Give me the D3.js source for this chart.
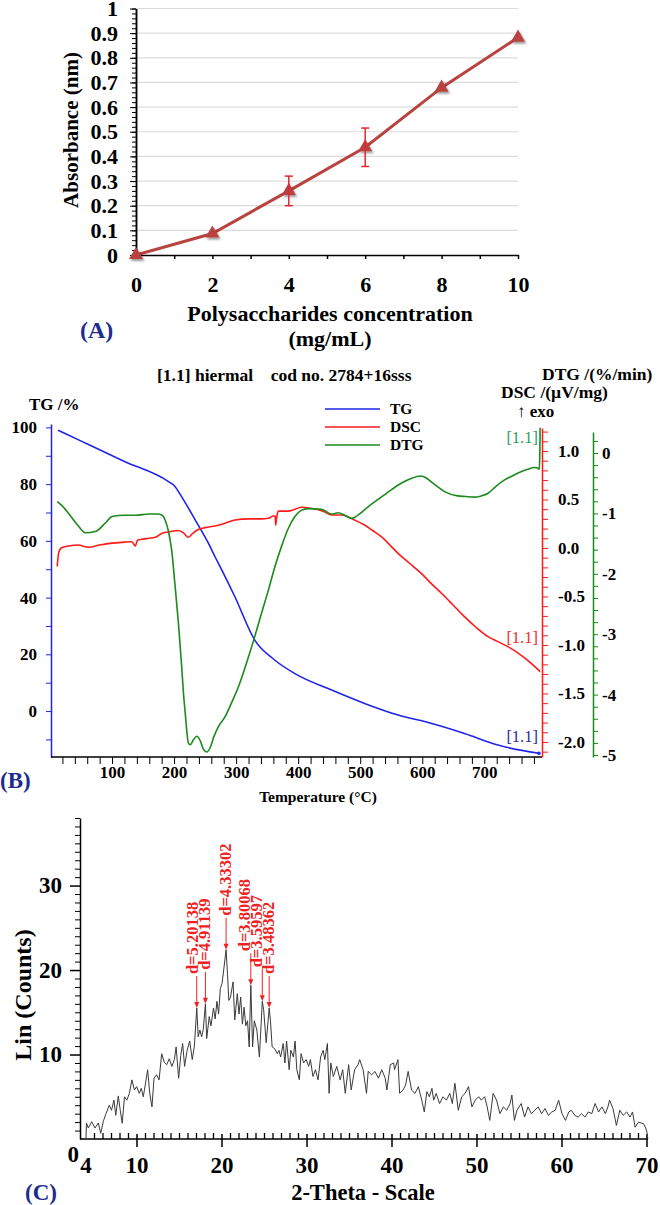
<!DOCTYPE html>
<html><head><meta charset="utf-8">
<script src="https://cdn.jsdelivr.net/npm/d3@7"></script>
<style>
body{margin:0;background:#fff}
svg{display:block}
text{font-family:"Liberation Serif","Times New Roman",serif}
</style>
</head><body>
<svg id="c" width="660" height="1205"></svg>
<script>
// ---------------- Panel A data ----------------
const absConc = [0, 2, 4, 6, 8, 10];
const absVals = [0, 0.087, 0.26, 0.437, 0.679, 0.882];
const absErr  = [0, 0, 0.06, 0.078, 0, 0];
const absYTicks = [0, 0.1, 0.2, 0.3, 0.4, 0.5, 0.6, 0.7, 0.8, 0.9, 1];
const absYLabels = ["0","0.1","0.2","0.3","0.4","0.5","0.6","0.7","0.8","0.9","1"];
const absXLabels = [0, 2, 4, 6, 8, 10];

// ---------------- Panel B data ----------------
const tgTemp = [13, 46, 120, 191, 200, 212, 234, 255.5, 266, 277, 298, 330, 362, 394, 454, 507, 561, 614, 668, 722, 788];
const tgVal  = [99, 95.6, 88, 80.9, 79.5, 75.6, 67.4, 59.1, 54.4, 49.7, 40.3, 25, 18, 13.3, 7.4, 2.7, -1.4, -4.3, -7.9, -12, -14.9];

const dscTemp = [11.6, 14, 18, 30, 45, 62.5, 80, 100, 120, 132, 137.5, 141, 148, 160, 169.6, 180, 191, 207, 216, 223, 230, 239, 250, 266, 280, 298, 320, 340, 352, 360, 363, 363.7, 365, 368, 384, 395, 405.5, 420, 440, 454, 470, 490, 507, 520, 534, 548, 561, 580, 598, 615, 631, 650, 668, 687, 706, 720, 738, 758, 775.6, 790];
const dscVal  = [-0.19, -0.05, 0.0, 0.02, 0.03, 0.007, 0.03, 0.05, 0.06, 0.065, 0.02, 0.08, 0.09, 0.10, 0.11, 0.15, 0.165, 0.18, 0.15, 0.11, 0.15, 0.19, 0.21, 0.227, 0.25, 0.289, 0.30, 0.30, 0.306, 0.33, 0.33, 0.237, 0.30, 0.38, 0.38, 0.40, 0.42, 0.41, 0.38, 0.34, 0.34, 0.29, 0.237, 0.18, 0.117, 0.03, -0.055, -0.16, -0.26, -0.37, -0.467, -0.59, -0.708, -0.82, -0.914, -0.96, -1.017, -1.1, -1.19, -1.275];

const dtgTemp = [11.6, 20, 30, 45, 57, 73, 90, 100, 120, 137.5, 160, 175, 182, 185.5, 191, 196, 201.6, 207, 212, 215, 218, 223, 226, 231, 236.7, 242, 247, 252.7, 258, 264, 271.5, 282, 292, 303.7, 316, 330, 341, 352, 362, 373, 384, 394.7, 405, 416, 437.6, 453.7, 464.5, 475, 486, 500, 512.7, 530, 550, 566, 582, 598, 606, 614, 625, 636, 657, 670, 684, 695, 705.5, 718, 732, 745, 759, 770, 780.6, 786, 788.6, 789.5, 790];
const dtgVal  = [-0.806, -0.88, -1.0, -1.2, -1.32, -1.30, -1.15, -1.05, -1.03, -1.03, -1.01, -1.01, -1.04, -1.11, -1.3, -1.6, -2.2, -2.82, -3.5, -3.96, -4.31, -4.8, -4.83, -4.75, -4.69, -4.76, -4.9, -4.95, -4.88, -4.7, -4.53, -4.37, -4.15, -3.87, -3.5, -3.04, -2.65, -2.27, -1.9, -1.55, -1.25, -1.05, -0.95, -0.92, -0.93, -1.01, -0.99, -1.03, -1.08, -1.0, -0.89, -0.76, -0.61, -0.5, -0.42, -0.38, -0.41, -0.475, -0.56, -0.64, -0.71, -0.72, -0.73, -0.71, -0.67, -0.56, -0.45, -0.38, -0.31, -0.27, -0.24, -0.25, -0.27, 0.0, 0.42];

const tgTicks = [0, 20, 40, 60, 80, 100];
const dscTicks = [1.0, 0.5, 0.0, -0.5, -1.0, -1.5, -2.0];
const dscTickLabels = ["1.0", "0.5", "0.0", "-0.5", "-1.0", "-1.5", "-2.0"];
const dtgTicks = [0, -1, -2, -3, -4, -5];
const dtgTickLabels = ["0", "-1", "-2", "-3", "-4", "-5"];
const tempTicks = [100, 200, 300, 400, 500, 600, 700];
const seriesNames = ["TG", "DSC", "DTG"];
const endLabelVals = [-9.2, -0.93, 0.25]; // TG, DSC, DTG units

// ---------------- Panel C data ----------------
const xrdTheta = [4.0, 4.05, 4.27, 4.67, 5.06, 5.45, 5.73, 6.04, 6.35, 6.74, 7.0, 7.29, 7.5, 7.8, 8.03, 8.26, 8.53, 8.8, 9.1, 9.4, 9.7, 9.96, 10.27, 10.5, 10.74, 10.97, 11.25, 11.5, 11.76, 12.0, 12.3, 12.6, 12.9, 13.2, 13.5, 13.8, 14.1, 14.4, 14.6, 14.9, 15.15, 15.37, 15.6, 15.9, 16.2, 16.5, 16.75, 17.03, 17.2, 17.4, 17.6, 17.8, 18.05, 18.2, 18.5, 18.7, 19.0, 19.2, 19.4, 19.6, 19.8, 20.0, 20.2, 20.48, 20.65, 20.8, 21.0, 21.3, 21.5, 21.8, 22.0, 22.2, 22.4, 22.6, 22.8, 23.0, 23.2, 23.39, 23.6, 23.8, 24.1, 24.4, 24.74, 24.9, 25.2, 25.55, 25.7, 25.9, 26.2, 26.5, 26.7, 26.9, 27.2, 27.4, 27.6, 27.9, 28.1, 28.4, 28.6, 28.8, 29.1, 29.3, 29.6, 29.9, 30.2, 30.4, 30.7, 31.0, 31.3, 31.6, 31.9, 32.1, 32.4, 32.6, 32.8, 33.1, 33.5, 33.9, 34.2, 34.5, 34.9, 35.2, 35.6, 36.0, 36.2, 36.6, 37.0, 37.2, 37.6, 38.0, 38.4, 38.8, 39.2, 39.4, 39.8, 40.2, 40.3, 40.7, 40.9, 41.3, 41.6, 41.9, 42.3, 42.7, 43.1, 43.5, 43.8, 44.1, 44.4, 44.7, 44.9, 45.2, 45.6, 46.0, 46.4, 46.8, 47.1, 47.4, 47.8, 48.2, 48.6, 49.0, 49.4, 49.8, 50.2, 50.5, 50.9, 51.2, 51.5, 51.9, 52.3, 52.7, 53.1, 53.5, 53.9, 54.1, 54.4, 54.7, 55.2, 55.6, 56.0, 56.4, 56.8, 57.2, 57.6, 58.0, 58.4, 58.8, 59.2, 59.6, 60.0, 60.4, 60.8, 61.1, 61.5, 61.9, 62.3, 62.7, 63.1, 63.5, 63.9, 64.3, 64.7, 65.1, 65.4, 65.6, 66.0, 66.4, 66.8, 67.2, 67.6, 68.0, 68.3, 68.6, 69.0, 69.3, 69.6, 69.85, 70.0, 70.1];
const xrdCounts = [0.0, 1.9, 1.3, 2.05, 1.3, 1.9, 0.67, 2.1, 3.0, 4.0, 3.4, 4.6, 2.8, 5.1, 3.4, 1.86, 5.0, 4.6, 5.4, 7.0, 5.8, 6.2, 5.4, 6.0, 5.0, 6.4, 8.2, 5.4, 3.8, 7.2, 7.6, 7.0, 10.1, 9.1, 8.8, 9.5, 8.6, 9.4, 10.9, 7.2, 9.9, 11.3, 8.6, 10.5, 11.6, 9.4, 11.0, 15.5, 12.1, 12.9, 12.1, 13.0, 16.0, 11.9, 14.5, 13.4, 15.5, 14.2, 16.3, 14.8, 17.8, 18.4, 20.0, 22.4, 19.5, 16.4, 16.8, 18.6, 14.1, 17.2, 14.8, 16.8, 13.6, 15.6, 13.4, 14.0, 10.9, 18.2, 10.9, 14.0, 12.9, 9.7, 16.3, 15.3, 11.4, 15.5, 14.0, 10.9, 10.7, 10.1, 10.5, 9.7, 11.3, 9.0, 11.6, 8.2, 10.5, 9.7, 11.6, 8.2, 7.0, 10.1, 9.0, 9.4, 8.6, 9.4, 7.4, 8.2, 7.0, 9.7, 10.5, 9.4, 11.3, 5.4, 9.0, 7.4, 8.6, 7.0, 8.2, 5.4, 8.8, 5.8, 8.2, 8.8, 9.4, 8.2, 5.4, 8.0, 7.6, 8.0, 7.2, 8.2, 7.2, 5.8, 8.8, 9.0, 8.2, 9.4, 5.4, 5.8, 6.4, 8.0, 5.8, 5.4, 6.2, 4.6, 3.2, 5.6, 5.0, 6.0, 4.6, 5.4, 4.2, 5.0, 4.6, 5.4, 4.2, 6.6, 3.4, 5.0, 5.4, 6.2, 3.8, 4.6, 5.0, 4.6, 5.0, 3.8, 2.2, 5.4, 4.6, 3.0, 3.8, 3.4, 4.2, 5.2, 2.2, 3.4, 4.2, 2.6, 3.8, 3.0, 3.4, 3.8, 3.0, 3.6, 2.8, 3.2, 3.4, 4.6, 3.0, 2.2, 3.2, 3.4, 2.8, 2.6, 3.0, 2.6, 3.2, 3.0, 4.2, 3.2, 3.8, 3.0, 3.8, 4.6, 3.6, 1.6, 3.4, 2.8, 3.2, 2.6, 3.2, 1.4, 2.0, 1.9, 1.8, 1.3, 0.8, 0.0];
const peakTheta = [17.03, 18.05, 20.48, 23.39, 24.74, 25.55];
const peakCounts = [15.5, 16.0, 22.4, 18.2, 16.3, 15.5];
const peakLabels = ["d=5.20138", "d=4.91139", "d=4.33302", "d=3.80068", "d=3.59597", "d=3.48362"];
const xrdXTicks = [10, 20, 30, 40, 50, 60, 70];
const xrdYTicks = [10, 20, 30];

// ---------------- Drawing ----------------
const svg = d3.select("#c");
const FONT = '"Liberation Serif","Times New Roman",serif';
const NAVY = "#1d2b8f";

function styleAxis(g, size, color) {
  g.selectAll("text").attr("font-family", FONT).attr("font-weight", "bold")
    .attr("font-size", size).attr("fill", "#000");
  g.selectAll("line").attr("stroke", color);
  g.select(".domain").attr("stroke", color);
}

// ===== Panel A =====
const xA = d3.scaleLinear([0, 10], [136, 518]);
const yA = d3.scaleLinear([0, 1], [255, 8.5]);
const gA = svg.append("g");

gA.append("g").selectAll("line").data(absYTicks.slice(1)).join("line")
  .attr("x1", xA(0)).attr("x2", xA(10))
  .attr("y1", d => yA(d)).attr("y2", d => yA(d))
  .attr("stroke", "#dcdcdc").attr("stroke-width", 1.2);

gA.append("g").attr("transform", `translate(${xA(0)},0)`)
  .call(d3.axisLeft(yA).tickValues(d3.range(0, 1.001, 0.02)).tickSize(4).tickSizeOuter(0).tickFormat(""))
  .call(g => { g.selectAll("line").attr("stroke", "#000"); g.select(".domain").attr("stroke", "#000").attr("stroke-width", 1.5); });
const yAxA = gA.append("g").attr("transform", `translate(${xA(0)},0)`)
  .call(d3.axisLeft(yA).tickValues(absYTicks).tickSize(6).tickSizeOuter(0).tickPadding(12)
    .tickFormat((d, i) => absYLabels[i]));
styleAxis(yAxA, 22, "#000");
yAxA.select(".domain").attr("stroke-width", 1.5);

const xAxA = gA.append("g").attr("transform", `translate(0,${yA(0)})`)
  .call(d3.axisBottom(xA).tickValues(d3.range(0, 11, 1)).tickSize(4).tickSizeOuter(0).tickPadding(17)
    .tickFormat(d => absXLabels.includes(d) ? d : ""));
styleAxis(xAxA, 22, "#000");
xAxA.select(".domain").attr("stroke-width", 1.5);
xAxA.selectAll("line").attr("stroke-width", 1.5);

const defs = svg.append("defs");
const f = defs.append("filter").attr("id", "sh").attr("x", "-50%").attr("y", "-50%").attr("width", "200%").attr("height", "200%");
f.append("feDropShadow").attr("dx", 1.5).attr("dy", 2).attr("stdDeviation", 1.2)
  .attr("flood-color", "#000").attr("flood-opacity", 0.4);

const ptsA = absConc.map((c, i) => ({ x: c, y: absVals[i], e: absErr[i] }));
gA.append("path").datum(ptsA)
  .attr("d", d3.line().x(d => xA(d.x)).y(d => yA(d.y)))
  .attr("fill", "none").attr("stroke", "#b8433f").attr("stroke-width", 3);
gA.append("g").selectAll("path").data(ptsA).join("path")
  .attr("d", d3.symbol(d3.symbolTriangle, 85))
  .attr("transform", d => `translate(${xA(d.x)},${yA(d.y)})`)
  .attr("fill", "#b8433f").attr("filter", "url(#sh)");
const eb = gA.append("g").attr("stroke", "#e3262e").attr("stroke-width", 1.5);
ptsA.filter(d => d.e > 0).forEach(d => {
  const x = xA(d.x), y1 = yA(d.y + d.e), y2 = yA(d.y - d.e);
  eb.append("line").attr("x1", x).attr("x2", x).attr("y1", y1).attr("y2", y2);
  eb.append("line").attr("x1", x - 4).attr("x2", x + 4).attr("y1", y1).attr("y2", y1);
  eb.append("line").attr("x1", x - 4).attr("x2", x + 4).attr("y1", y2).attr("y2", y2);
});

gA.append("text").attr("transform", "translate(78,130) rotate(-90)")
  .attr("text-anchor", "middle").attr("font-size", 21).attr("font-weight", "bold")
  .text("Absorbance (nm)");
gA.append("text").attr("x", 330).attr("y", 321).attr("text-anchor", "middle")
  .attr("font-size", 22).attr("font-weight", "bold").text("Polysaccharides concentration");
gA.append("text").attr("x", 330).attr("y", 346).attr("text-anchor", "middle")
  .attr("font-size", 22).attr("font-weight", "bold").text("(mg/mL)");
gA.append("text").attr("x", 80).attr("y", 338).attr("font-size", 24).attr("font-weight", "bold")
  .attr("fill", NAVY).text("(A)");

// ===== Panel B =====
const BLUE = "#1f24e6", RED = "#ff1a1a", GREEN = "#1c8a1c";
const xB = d3.scaleLinear([0, 793], [50, 542]);
const yTG = d3.scaleLinear([-16.2, 101.2], [757, 424]);
const yDSC = d3.scaleLinear([-2.155, 1.237], [757, 428]);
const yDTG = d3.scaleLinear([-5.033, 0.348], [757, 432]);
const gB = svg.append("g");

gB.append("text").attr("x", 157).attr("y", 381).attr("font-size", 17.5).attr("font-weight", "bold")
  .attr("xml:space", "preserve").style("white-space", "pre")
  .text("[1.1] hiermal    cod no. 2784+16sss");
gB.append("text").attr("x", 29).attr("y", 410).attr("font-size", 17).attr("font-weight", "bold").text("TG /%");
gB.append("text").attr("x", 542).attr("y", 380).attr("font-size", 17.5).attr("font-weight", "bold").text("DTG /(%/min)");
gB.append("text").attr("x", 501).attr("y", 398).attr("font-size", 17.5).attr("font-weight", "bold").text("DSC /(µV/mg)");
gB.append("text").attr("x", 517).attr("y", 417).attr("font-size", 17).attr("font-weight", "bold").text("↑ exo");

const axTG = gB.append("g").attr("transform", `translate(${xB(0) + 1},0)`)
  .call(d3.axisLeft(yTG).tickValues(d3.range(-10, 101, 10)).tickSize(5).tickSizeOuter(0).tickPadding(9)
    .tickFormat(d => tgTicks.includes(d) ? d : ""));
styleAxis(axTG, 17, BLUE);
axTG.select(".domain").attr("stroke-width", 1.5);

const axT = gB.append("g").attr("transform", `translate(0,757)`)
  .call(d3.axisBottom(xB).tickValues(d3.range(20, 781, 20)).tickSize(7).tickSizeOuter(0).tickPadding(2)
    .tickFormat(d => tempTicks.includes(d) ? d : ""));
styleAxis(axT, 17, "#000");
axT.select(".domain").attr("d", `M${xB(0) + 1},0H${xB(793)}`).attr("stroke-width", 1.5);

const axD = gB.append("g").attr("transform", `translate(${xB(793)},0)`)
  .call(d3.axisRight(yDSC).tickValues(d3.range(-2.1, 1.21, 0.1).map(v => Math.round(v * 10) / 10))
    .tickSize(6).tickSizeOuter(0).tickPadding(10)
    .tickFormat(d => { const i = dscTicks.findIndex(t => Math.abs(t - d) < 1e-6); return i >= 0 ? dscTickLabels[i] : ""; }));
styleAxis(axD, 17, RED);
axD.select(".domain").attr("stroke-width", 1.5);

const axG = gB.append("g").attr("transform", `translate(593,0)`)
  .call(d3.axisRight(yDTG).tickValues(d3.range(-5, 0.35, 0.2).map(v => Math.round(v * 10) / 10))
    .tickSize(5).tickSizeOuter(0).tickPadding(4)
    .tickFormat(d => { const i = dtgTicks.findIndex(t => Math.abs(t - d) < 1e-6); return i >= 0 ? dtgTickLabels[i] : ""; }));
styleAxis(axG, 17, GREEN);
axG.select(".domain").attr("stroke-width", 1.5);

const zip = (a, b) => a.map((v, i) => [v, b[i]]);
gB.append("path").datum(zip(tgTemp, tgVal))
  .attr("d", d3.line().x(d => xB(d[0])).y(d => yTG(d[1])).curve(d3.curveMonotoneX))
  .attr("fill", "none").attr("stroke", BLUE).attr("stroke-width", 1.6);
gB.append("path").datum(zip(dscTemp, dscVal))
  .attr("d", d3.line().x(d => xB(d[0])).y(d => yDSC(d[1])).curve(d3.curveMonotoneX))
  .attr("fill", "none").attr("stroke", RED).attr("stroke-width", 1.6);
gB.append("path").datum(zip(dtgTemp, dtgVal))
  .attr("d", d3.line().x(d => xB(d[0])).y(d => yDTG(d[1])).curve(d3.curveMonotoneX))
  .attr("fill", "none").attr("stroke", GREEN).attr("stroke-width", 1.6);
gB.append("circle").attr("cx", xB(tgTemp[tgTemp.length - 1])).attr("cy", yTG(tgVal[tgVal.length - 1]))
  .attr("r", 1.8).attr("fill", BLUE);

const legColors = [BLUE, RED, GREEN];
seriesNames.forEach((n, i) => {
  const y = 409 + i * 18;
  gB.append("line").attr("x1", 325).attr("x2", 380).attr("y1", y).attr("y2", y)
    .attr("stroke", legColors[i]).attr("stroke-width", 1.5);
  gB.append("text").attr("x", 390).attr("y", y + 5).attr("font-size", 15.5).attr("font-weight", "bold").text(n);
});

const endScales = [yTG, yDSC, yDTG];
const endColors = ["#2a2aa8", "#f02a2a", "#2f9e5a"];
endLabelVals.forEach((v, i) => {
  gB.append("text").attr("x", 538).attr("y", endScales[i](v) + 5).attr("text-anchor", "end")
    .attr("font-size", 16.5).attr("fill", endColors[i]).text("[1.1]");
});

gB.append("text").attr("x", 318).attr("y", 802).attr("text-anchor", "middle")
  .attr("font-size", 15.5).attr("font-weight", "bold").text("Temperature (°C)");
gB.append("text").attr("x", 0).attr("y", 788).attr("font-size", 23).attr("font-weight", "bold")
  .attr("fill", NAVY).text("(B)");

// ===== Panel C =====
const xC = d3.scaleLinear([4, 70], [86, 647]);
const yC = d3.scaleLinear([0, 38], [1139, 818]);
const gC = svg.append("g");

gC.append("g").attr("transform", "translate(80,0)")
  .call(d3.axisLeft(yC).tickValues(d3.range(1, 39, 1).filter(d => d % 10 !== 0)).tickSize(5).tickSizeOuter(0).tickFormat(""))
  .call(g => { g.selectAll("line").attr("stroke", "#000"); g.select(".domain").attr("stroke", "#000").attr("stroke-width", 1.5); });
const axCY = gC.append("g").attr("transform", "translate(80,0)")
  .call(d3.axisLeft(yC).tickValues(xrdYTicks).tickSize(10).tickSizeOuter(0).tickPadding(8));
styleAxis(axCY, 23, "#000");
axCY.select(".domain").remove();
axCY.selectAll("line").attr("stroke-width", 1.5);
gC.append("text").attr("x", 79).attr("y", 1162).attr("text-anchor", "end")
  .attr("font-size", 23).attr("font-weight", "bold").text("0");

gC.append("line").attr("x1", 80).attr("x2", xC(70) + 1).attr("y1", yC(0)).attr("y2", yC(0))
  .attr("stroke", "#000").attr("stroke-width", 1.5);
gC.append("g").selectAll("line").data(d3.range(5, 70, 1).filter(d => d % 10 !== 0)).join("line")
  .attr("x1", d => xC(d)).attr("x2", d => xC(d))
  .attr("y1", yC(0)).attr("y2", yC(0) - 6).attr("stroke", "#000").attr("stroke-width", 1.3);
gC.append("g").selectAll("line").data(xrdXTicks).join("line")
  .attr("x1", d => xC(d)).attr("x2", d => xC(d))
  .attr("y1", yC(0) - 5).attr("y2", yC(0) + 8).attr("stroke", "#000").attr("stroke-width", 1.5);
gC.append("g").selectAll("text").data([4].concat(xrdXTicks)).join("text")
  .attr("x", d => xC(d)).attr("y", 1173).attr("text-anchor", "middle")
  .attr("font-size", 23).attr("font-weight", "bold").text(d => d);

gC.append("path").datum(zip(xrdTheta, xrdCounts))
  .attr("d", d3.line().x(d => xC(d[0])).y(d => yC(d[1])))
  .attr("fill", "none").attr("stroke", "#3a3a3a").attr("stroke-width", 1);

// peak markers; labels spread so they do not overlap (right to left)
const PRED = "#ee2222";
const lineX = peakTheta.map(t => xC(t));
const labX = lineX.slice();
for (let i = labX.length - 2; i >= 0; i--) {
  if (labX[i + 1] - labX[i] < 12) labX[i] = labX[i + 1] - 12;
}
peakTheta.forEach((t, i) => {
  const x = lineX[i], yp = yC(peakCounts[i]);
  gC.append("line").attr("x1", x).attr("x2", x).attr("y1", yp - 32).attr("y2", yp - 4)
    .attr("stroke", PRED).attr("stroke-width", 1);
  gC.append("path").attr("d", `M${x - 2.5},${yp - 6}L${x + 2.5},${yp - 6}L${x},${yp}Z`).attr("fill", PRED);
  gC.append("text").attr("transform", `translate(${labX[i] - 1},${yp - 34}) rotate(-90)`)
    .attr("dy", "0.35em").attr("font-size", 16.5).attr("font-weight", "bold").attr("fill", PRED)
    .text(peakLabels[i]);
});

gC.append("text").attr("transform", "translate(31,995) rotate(-90)").attr("text-anchor", "middle")
  .attr("font-size", 24).attr("font-weight", "bold").text("Lin (Counts)");
gC.append("text").attr("x", 363).attr("y", 1200).attr("text-anchor", "middle")
  .attr("font-size", 22.5).attr("font-weight", "bold").text("2-Theta - Scale");
gC.append("text").attr("x", 25).attr("y", 1200).attr("font-size", 23).attr("font-weight", "bold")
  .attr("fill", NAVY).text("(C)");
</script>
</body></html>
